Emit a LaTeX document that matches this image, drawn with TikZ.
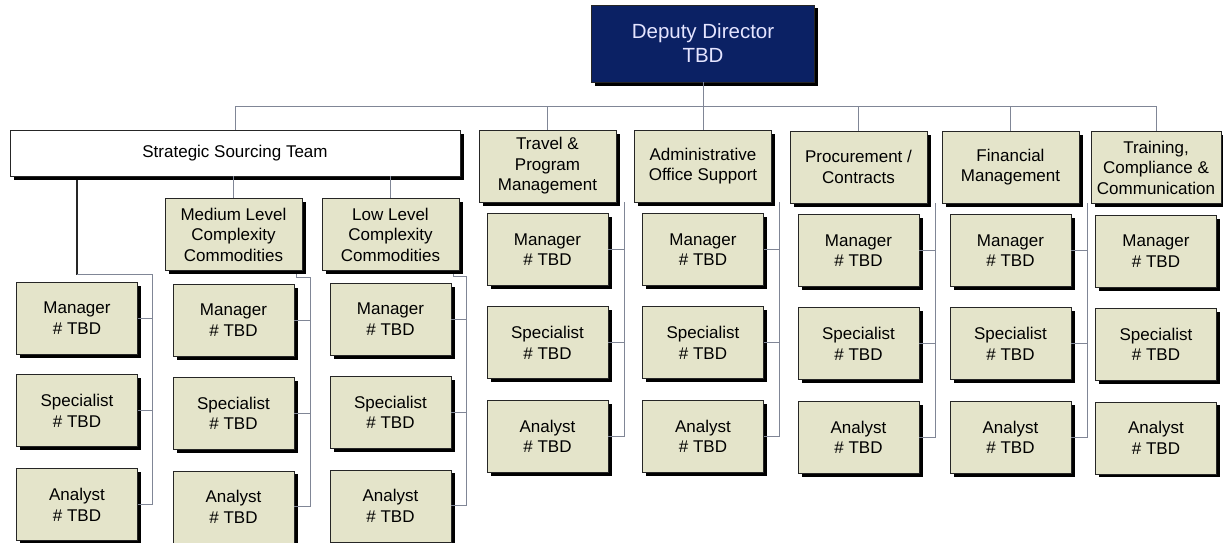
\documentclass[tikz,border=0pt]{standalone}
\usepackage{fontspec}
\setmainfont{Liberation Sans}
\usetikzlibrary{positioning, shadows}
\definecolor{BoxFill}{RGB}{228,228,202}
\definecolor{DirNavy}{RGB}{11,33,100}
\definecolor{LinkGrey}{RGB}{128,134,150}

\begin{document}
\begin{tikzpicture}[
  x=1pt, y=-1pt,
  font=\fontsize{17}{20.5}\selectfont,
  orgbox/.style={draw=black!85, line width=0.8pt, fill=BoxFill, align=center, inner sep=2pt,
    drop shadow={shadow xshift=3.5pt, shadow yshift=-3.5pt, fill=black, opacity=1}},
  unitbox/.style={orgbox, minimum width=137pt, minimum height=72pt},
  staffbox/.style={orgbox, minimum width=121pt, minimum height=72pt},
  headbox/.style={orgbox, fill=DirNavy, text=white!90!blue, minimum width=223pt, minimum height=77pt, font=\fontsize{20.5}{24}\selectfont},
  teambox/.style={orgbox, fill=white, minimum width=450pt, minimum height=46pt},
  orgline/.style={draw=LinkGrey, line width=0.9pt},
  teamline/.style={draw=black!85, line width=1.1pt}
]
\useasboundingbox (0,0) rectangle (1223,543);
\coordinate (bus) at (0,106);

% top levels
\node[headbox] (dir) at (703,43.5) {Deputy Director\\TBD};
\node[teambox] (sst) at (235,153) {Strategic Sourcing Team};
\node[unitbox] (trv) at (547.5,166) {Travel \&\\Program\\Management};
\node[unitbox] (adm) at (703,166) {Administrative\\Office Support};
\node[unitbox] (proc) at (858.5,167) {Procurement /\\Contracts};
\node[unitbox] (fin) at (1010.5,167) {Financial\\Management};
\node[unitbox, minimum width=130pt] (trn) at (1156,167.5) {Training,\\Compliance \&\\Communication};
\node[unitbox] (med) at (233.5,234.5) {Medium Level\\Complexity\\Commodities};
\node[unitbox] (low) at (390.5,234.5) {Low Level\\Complexity\\Commodities};

% staff under the sourcing team
\node[staffbox] (sstM) at (77,318) {Manager\\\# TBD};
\node[staffbox, below=20pt of sstM] (sstS) {Specialist\\\# TBD};
\node[staffbox, below=21pt of sstS] (sstA) {Analyst\\\# TBD};
\node[staffbox, below=13pt of med] (medM) {Manager\\\# TBD};
\node[staffbox, below=20pt of medM] (medS) {Specialist\\\# TBD};
\node[staffbox, below=21pt of medS] (medA) {Analyst\\\# TBD};
\node[staffbox, below=12pt of low] (lowM) {Manager\\\# TBD};
\node[staffbox, below=20pt of lowM] (lowS) {Specialist\\\# TBD};
\node[staffbox, below=21pt of lowS] (lowA) {Analyst\\\# TBD};

% staff under the other units
\node[staffbox, below=11pt of trv] (trvM) {Manager\\\# TBD};
\node[staffbox, below=20pt of trvM] (trvS) {Specialist\\\# TBD};
\node[staffbox, below=21pt of trvS] (trvA) {Analyst\\\# TBD};
\node[staffbox, below=11pt of adm] (admM) {Manager\\\# TBD};
\node[staffbox, below=20pt of admM] (admS) {Specialist\\\# TBD};
\node[staffbox, below=21pt of admS] (admA) {Analyst\\\# TBD};
\node[staffbox, below=11pt of proc] (procM) {Manager\\\# TBD};
\node[staffbox, below=20pt of procM] (procS) {Specialist\\\# TBD};
\node[staffbox, below=21pt of procS] (procA) {Analyst\\\# TBD};
\node[staffbox, below=11pt of fin] (finM) {Manager\\\# TBD};
\node[staffbox, below=20pt of finM] (finS) {Specialist\\\# TBD};
\node[staffbox, below=21pt of finS] (finA) {Analyst\\\# TBD};
\node[staffbox, below=11pt of trn] (trnM) {Manager\\\# TBD};
\node[staffbox, below=20pt of trnM] (trnS) {Specialist\\\# TBD};
\node[staffbox, below=21pt of trnS] (trnA) {Analyst\\\# TBD};

% bus from the director
\draw[orgline] (dir.south) -- (adm.north);
\draw[orgline] (sst.north) |- (bus -| trn.north) -- (trn.north);
\draw[orgline] (trv.north) -- (trv.north |- bus);
\draw[orgline] (proc.north) -- (proc.north |- bus);
\draw[orgline] (fin.north) -- (fin.north |- bus);

% sourcing team branches
\draw[orgline] (sst.south -| med.north) -- (med.north);
\draw[orgline] (sst.south -| low.north) -- (low.north);
\draw[teamline] ([yshift=-3.5pt]sst.south -| sstM.north) -- ([yshift=7pt]sstM.north);
\draw[orgline] ([yshift=7pt]sstM.north) -| ([xshift=15pt]sstA.east) -- (sstA.east);
\draw[orgline] ([xshift=-6pt,yshift=-3.5pt]med.south east) |- ([xshift=16pt,yshift=6pt]medM.north east) |- (medA.east);
\draw[orgline] ([xshift=-6pt,yshift=-3.5pt]low.south east) |- ([xshift=15pt,yshift=6pt]lowM.north east) |- (lowA.east);
\draw[orgline] (sstM.east) -- ++(15,0);
\draw[orgline] (sstS.east) -- ++(15,0);
\draw[orgline] (medM.east) -- ++(16,0);
\draw[orgline] (medS.east) -- ++(16,0);
\draw[orgline] (lowM.east) -- ++(15,0);
\draw[orgline] (lowS.east) -- ++(15,0);

% unit brackets
\draw[orgline] ([xshift=8pt]trv.south east) |- (trvA.east);
\draw[orgline] (trvM.east) -- ++(16,0);
\draw[orgline] (trvS.east) -- ++(16,0);
\draw[orgline] ([xshift=8pt]adm.south east) |- (admA.east);
\draw[orgline] (admM.east) -- ++(16,0);
\draw[orgline] (admS.east) -- ++(16,0);
\draw[orgline] ([xshift=8pt]proc.south east) |- (procA.east);
\draw[orgline] (procM.east) -- ++(16,0);
\draw[orgline] (procS.east) -- ++(16,0);
\draw[orgline] ([xshift=8pt]fin.south east) |- (finA.east);
\draw[orgline] (finM.east) -- ++(16,0);
\draw[orgline] (finS.east) -- ++(16,0);
\end{tikzpicture}
\end{document}
